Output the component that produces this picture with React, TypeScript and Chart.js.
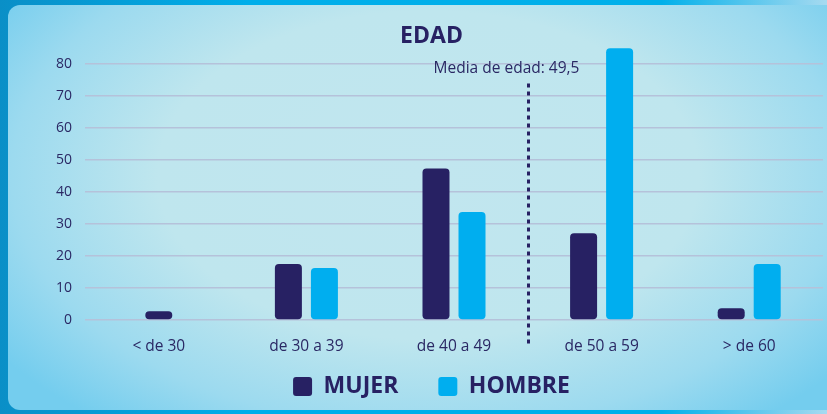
import React, { useEffect, useRef } from "react";
import { Chart, registerables } from "chart.js";

Chart.register(...registerables);

const CATEGORIES = ["< de 30", "de 30 a 39", "de 40 a 49", "de 50 a 59", "> de 60"];
const BIN_LOWER = [20, 30, 40, 50, 60];
const MUJER = [2.7, 17.5, 47.4, 27.1, 3.7];
const HOMBRE: (number | null)[] = [null, 16.3, 33.8, 85, 17.5];
const Y_TICKS = [0, 10, 20, 30, 40, 50, 60, 70, 80];
const TITLE = "EDAD";
const MEAN_AGE = 49.5;
const MEAN_LABEL = "Media de edad: 49,5";
const SERIES_NAMES = ["MUJER", "HOMBRE"];

const NAVY = "#272163";
const TEXT = "#2a2864";
const CYAN = "#00aeef";
const GRID = "#b5c2da";
const FONT = "'Open Sans', 'Noto Sans', sans-serif";

function ageToIndex(age: number): number {
  let i = 0;
  for (let k = 0; k < BIN_LOWER.length; k++) if (age >= BIN_LOWER[k] - 0.5) i = k;
  return i + (age - (BIN_LOWER[i] - 0.5)) / 10 - 0.5;
}

const meanLinePlugin = {
  id: "meanLine",
  afterDatasetsDraw(chart: any) {
    const { ctx, chartArea, scales } = chart;
    const x = Math.round(scales.x.getPixelForValue(ageToIndex(MEAN_AGE))) + 0.5;
    const yTop = chartArea.top + 37;
    const yBot = chartArea.bottom + 24;
    ctx.save();
    ctx.strokeStyle = NAVY;
    ctx.lineWidth = 3;
    ctx.setLineDash([4, 4]);
    ctx.beginPath();
    ctx.moveTo(x, yTop);
    ctx.lineTo(x, yBot);
    ctx.stroke();
    ctx.setLineDash([]);
    ctx.fillStyle = TEXT;
    ctx.font = `15.5px ${FONT}`;
    ctx.textAlign = "center";
    ctx.textBaseline = "middle";
    ctx.fillText(MEAN_LABEL, x - 22, yTop - 15);
    ctx.restore();
  },
};

export default function App() {
  const ref = useRef<HTMLCanvasElement>(null);
  useEffect(() => {
    if (!ref.current) return;
    const chart = new Chart(ref.current, {
      type: "bar",
      data: {
        labels: CATEGORIES,
        datasets: [
          {
            label: SERIES_NAMES[0],
            data: MUJER,
            backgroundColor: NAVY,
            borderRadius: 4,
            borderSkipped: false,
            categoryPercentage: 0.488,
            barPercentage: 0.75,
            maxBarThickness: 27,
            skipNull: true,
          } as any,
          {
            label: SERIES_NAMES[1],
            data: HOMBRE,
            backgroundColor: CYAN,
            borderRadius: 4,
            borderSkipped: false,
            categoryPercentage: 0.488,
            barPercentage: 0.75,
            maxBarThickness: 27,
            skipNull: true,
          } as any,
        ],
      },
      options: {
        animation: false,
        responsive: false,
        maintainAspectRatio: false,
        layout: { padding: { left: 40, right: 4, top: 0, bottom: 6 } },
        plugins: {
          title: {
            display: true,
            text: TITLE,
            color: NAVY,
            font: { family: FONT, size: 23, weight: "bold" },
            padding: { top: 23, bottom: -4 },
          },
          legend: {
            position: "bottom",
            labels: {
              boxWidth: 19,
              boxHeight: 19,
              useBorderRadius: true,
              borderRadius: 3,
              padding: 40,
              color: NAVY,
              font: { family: FONT, size: 23, weight: "bold" },
            },
          },
          tooltip: { enabled: false },
        },
        scales: {
          x: {
            grid: { display: false },
            border: { display: false },
            ticks: { color: TEXT, font: { family: FONT, size: 15.5 }, padding: 9 },
            afterFit: (s: any) => {
              s.height = 15;
              // let the tick labels overflow into the legend band
              s._computeLabelArea = () => undefined;
            },
          },
          y: {
            min: 0,
            max: 85.5,
            grid: { color: GRID, drawTicks: false, lineWidth: 1.5 },
            border: { display: false },
            ticks: { color: TEXT, font: { family: FONT, size: 14 }, padding: 13 },
            afterBuildTicks: (s: any) => {
              s.ticks = Y_TICKS.map((v) => ({ value: v }));
            },
            afterFit: (s: any) => {
              s.width = 45;
            },
          },
        },
      } as any,
      plugins: [meanLinePlugin],
    });
    return () => chart.destroy();
  }, []);

  return (
    <div
      style={{
        position: "fixed",
        left: 0,
        top: 0,
        width: 827,
        height: 414,
        overflow: "hidden",
        background: "linear-gradient(to right, #0a8fc7 0%, #00aeea 30%, #00b0ea 80%, #a6daf0 100%)",
      }}
    >
      <div
        style={{
          position: "absolute",
          left: 8,
          top: 5,
          width: 840,
          height: 405,
          borderRadius: 12,
          background:
            "radial-gradient(ellipse 62% 78% at 50% 42%, #c1e6ef 0%, #bfe6ee 52%, #9cdaef 80%, #74cdee 100%)",
        }}
      />
      <canvas
        ref={ref}
        width={827}
        height={414}
        style={{ position: "absolute", left: 0, top: 0, width: 827, height: 414 }}
      />
    </div>
  );
}
